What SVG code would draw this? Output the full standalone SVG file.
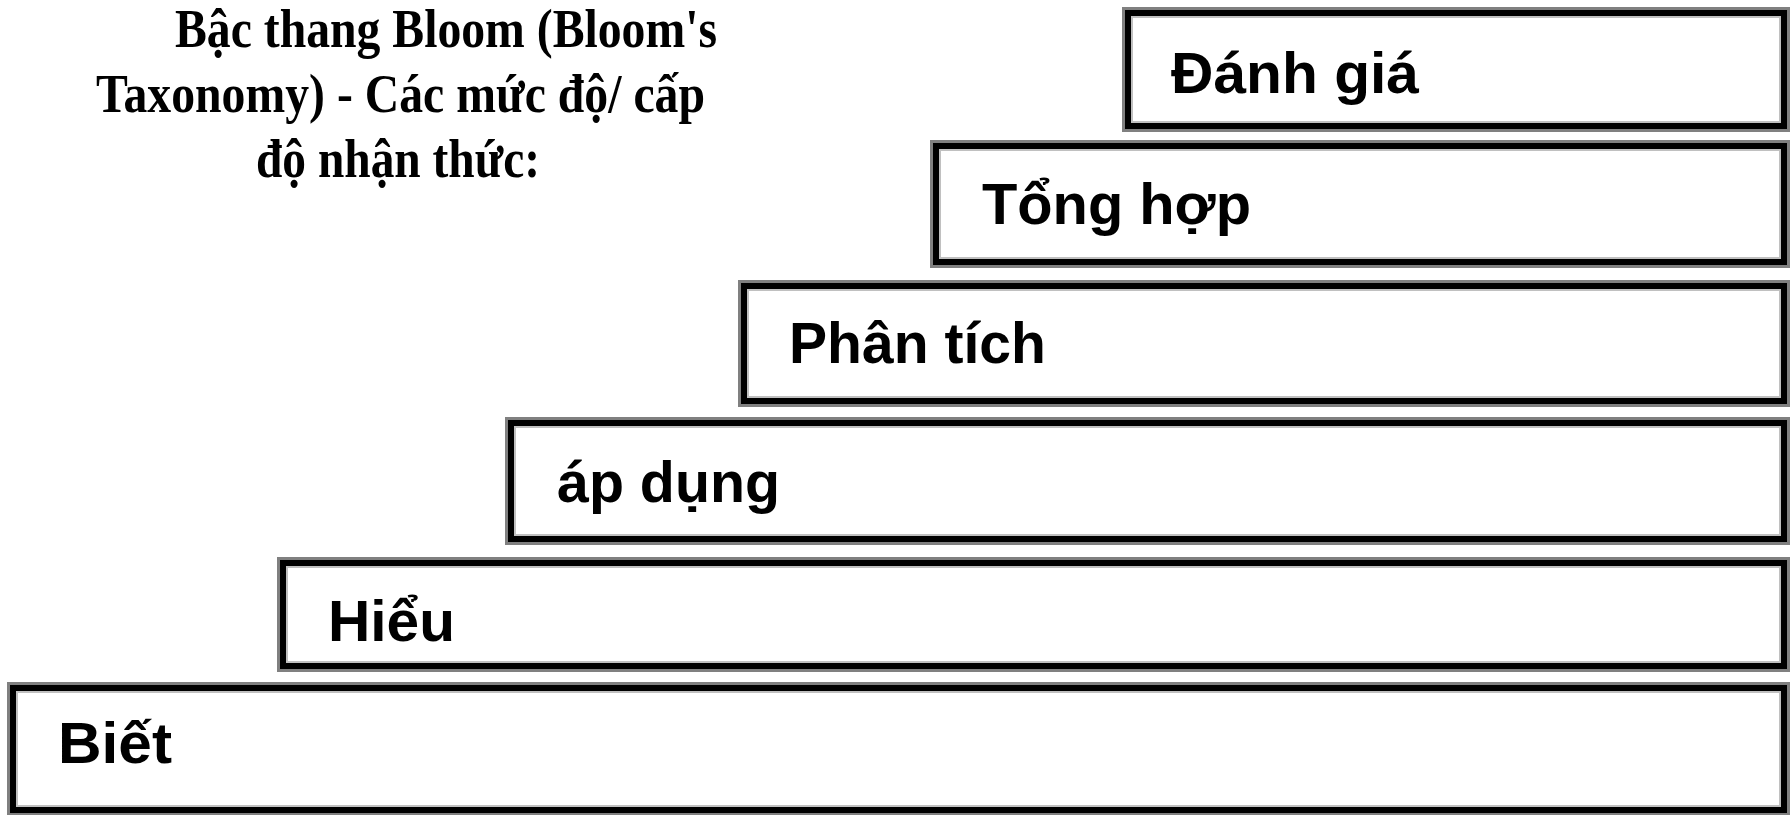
<svg xmlns="http://www.w3.org/2000/svg" width="1791" height="815" viewBox="0 0 1791 815">
<style>
.o{fill:none;stroke:#808080;stroke-width:3}
.k{fill:none;stroke:#000;stroke-width:6}
.i{fill:none;stroke:#c0c0c0;stroke-width:2}
.bg{fill:#fff}
.lbl{font-family:"Liberation Sans",Arial,sans-serif;font-weight:bold;font-size:58px;fill:#000}
.ttl{font-family:"Liberation Serif","Times New Roman",serif;font-weight:bold;font-size:54px;fill:#000}
</style>
<rect width="1791" height="815" fill="#fff"/>
<g id="title">
<text class="ttl" x="175" y="47" textLength="542" lengthAdjust="spacingAndGlyphs">Bậc thang Bloom (Bloom's</text>
<text class="ttl" x="96" y="112" textLength="609" lengthAdjust="spacingAndGlyphs">Taxonomy) - Các mức độ/ cấp</text>
<text class="ttl" x="256" y="177" textLength="284" lengthAdjust="spacingAndGlyphs">độ nhận thức:</text>
</g>
<g id="connectors"/>
<g id="danh-gia">
<rect class="bg" x="1122" y="7" width="668" height="125"/>
<rect class="o" x="1123.5" y="8.5" width="665" height="122"/>
<rect class="k" x="1128" y="13" width="656" height="113"/>
<rect class="i" x="1132" y="17" width="648" height="105"/>
<text class="lbl" x="1171" y="93" textLength="248" lengthAdjust="spacingAndGlyphs">Đánh giá</text>
</g>
<g id="tong-hop">
<rect class="bg" x="930" y="140" width="860" height="128"/>
<rect class="o" x="931.5" y="141.5" width="857" height="125"/>
<rect class="k" x="936" y="146" width="848" height="116"/>
<rect class="i" x="940" y="150" width="840" height="108"/>
<text class="lbl" x="982" y="224" textLength="269" lengthAdjust="spacingAndGlyphs">Tổng hợp</text>
</g>
<g id="phan-tich">
<rect class="bg" x="738" y="280" width="1052" height="127"/>
<rect class="o" x="739.5" y="281.5" width="1049" height="124"/>
<rect class="k" x="744" y="286" width="1040" height="115"/>
<rect class="i" x="748" y="290" width="1032" height="107"/>
<text class="lbl" x="789" y="363" textLength="257" lengthAdjust="spacingAndGlyphs">Phân tích</text>
</g>
<g id="ap-dung">
<rect class="bg" x="505" y="417" width="1285" height="128"/>
<rect class="o" x="506.5" y="418.5" width="1282" height="125"/>
<rect class="k" x="511" y="423" width="1273" height="116"/>
<rect class="i" x="515" y="427" width="1265" height="108"/>
<text class="lbl" x="557" y="502" textLength="223" lengthAdjust="spacingAndGlyphs">áp dụng</text>
</g>
<g id="hieu">
<rect class="bg" x="277" y="557" width="1513" height="115"/>
<rect class="o" x="278.5" y="558.5" width="1510" height="112"/>
<rect class="k" x="283" y="563" width="1501" height="103"/>
<rect class="i" x="287" y="567" width="1493" height="95"/>
<text class="lbl" x="328" y="641" textLength="127" lengthAdjust="spacingAndGlyphs">Hiểu</text>
</g>
<g id="biet">
<rect class="bg" x="7" y="682" width="1783" height="134"/>
<rect class="o" x="8.5" y="683.5" width="1780" height="131"/>
<rect class="k" x="13" y="688" width="1771" height="122"/>
<rect class="i" x="17" y="692" width="1763" height="114"/>
<text class="lbl" x="58" y="763" textLength="114" lengthAdjust="spacingAndGlyphs">Biết</text>
</g>
</svg>
